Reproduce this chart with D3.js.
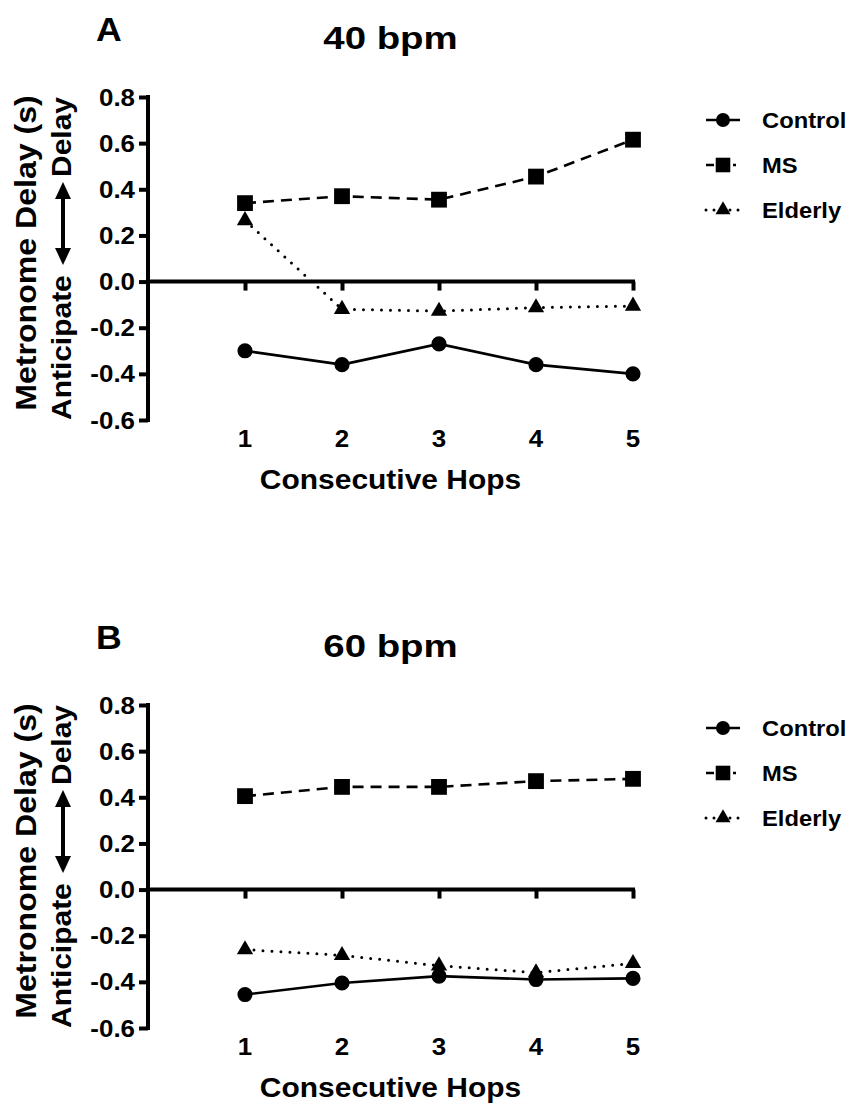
<!DOCTYPE html>
<html lang="en">
	<head>
		<meta charset="utf-8">
		<title>metronome delay</title>
		<script src="https://cdn.jsdelivr.net/npm/d3@7"></script>
		<style type="text/css">
			body { margin: 0; background: #fff; }
			text { font-family: "Liberation Sans", Arial, sans-serif; font-weight: bold; fill: #000; }
		</style>
	</head>

	<body>
        <script type="text/javascript">

            // chart width and height
			var w = 856;
			var h = 1103;

            // data
            var hops = [1, 2, 3, 4, 5];
            var yTicks = [0.8, 0.6, 0.4, 0.2, 0.0, -0.2, -0.4, -0.6];
            var groups = ["Control", "MS", "Elderly"];

            var control40 = [-0.30, -0.36, -0.27, -0.36, -0.40];
            var ms40      = [0.34, 0.37, 0.355, 0.455, 0.615];
            var elderly40 = [0.265, -0.12, -0.128, -0.113, -0.106];

            var control60 = [-0.455, -0.405, -0.375, -0.39, -0.385];
            var ms60      = [0.405, 0.445, 0.445, 0.47, 0.48];
            var elderly60 = [-0.26, -0.285, -0.33, -0.36, -0.32];

            var panels = [
                { letter: "A", title: "40 bpm", top: 97, series: [control40, ms40, elderly40] },
                { letter: "B", title: "60 bpm", top: 705, series: [control60, ms60, elderly60] }
            ];

            // line style + marker per group
            var styles = {
                Control: { dash: null, symbol: d3.symbolCircle, size: 180 },
                MS:      { dash: "11,7", symbol: d3.symbolSquare, size: 250 },
                Elderly: { dash: "0,9", symbol: d3.symbolTriangle, size: 115 }
            };

			var svg = d3.select("body")
						.append("svg")
						.attr("width", w)
						.attr("height", h);

            var xScale = d3.scaleLinear().domain([0, 5]).range([148, 633]);

            // text is a bit wider in the original, stretch horizontally
            function addText(g, x, y, str, size, sx, anchor, rot) {
                return g.append("text")
                    .attr("transform", "translate(" + x + "," + y + ")" + (rot ? " rotate(-90)" : "") + " scale(" + sx + ",1)")
                    .attr("text-anchor", anchor || "start")
                    .attr("font-size", size)
                    .text(str);
            }

            panels.forEach(function(p) {
                var yScale = d3.scaleLinear().domain([0.8, -0.6]).range([p.top, p.top + 323]);
                var g = svg.append("g");
                var y0 = yScale(0);

                // y axis
                var yAxis = d3.axisLeft(yScale)
                    .tickValues(yTicks)
                    .tickSize(9)
                    .tickFormat("");
                var ya = g.append("g")
                    .attr("transform", "translate(" + xScale(0) + ",0)")
                    .call(yAxis);
                ya.select(".domain").remove();
                ya.append("line")
                    .attr("y1", yScale(0.8) - 2).attr("y2", yScale(-0.6) + 2)
                    .attr("stroke", "#000").attr("stroke-width", 4);
                ya.selectAll(".tick line").attr("stroke-width", 4);

                yTicks.forEach(function(t) {
                    addText(g, 135, yScale(t) + 8.5, d3.format(".1f")(t).replace("−", "-"), 24, 1.08, "end");
                });

                // x axis sits on zero
                var xAxis = d3.axisBottom(xScale)
                    .tickValues(hops)
                    .tickSize(9)
                    .tickFormat("");
                var xa = g.append("g")
                    .attr("transform", "translate(0," + y0 + ")")
                    .call(xAxis);
                xa.select(".domain").remove();
                xa.append("line")
                    .attr("x1", xScale(0)).attr("x2", xScale(5) + 2)
                    .attr("stroke", "#000").attr("stroke-width", 4);
                xa.selectAll(".tick line").attr("stroke-width", 4);

                // labels below the plot, not under the zero line
                hops.forEach(function(d) {
                    addText(g, xScale(d), yScale(-0.6) + 27, d3.format("d")(d), 24, 1.08, "middle");
                });

                // titles
                addText(g, 96, p.top - 56, p.letter, 33, 1.08, "start");
                addText(g, xScale(2.5), p.top - 48, p.title, 32, 1.2, "middle");
                addText(g, xScale(2.5), yScale(-0.6) + 69, "Consecutive Hops", 28, 1.07, "middle");

                // y title (two lines, rotated)
                addText(g, 36, p.top + 156, "Metronome Delay (s)", 30, 1.07, "middle", true);
                addText(g, 71, p.top + 323, "Anticipate", 28, 1.07, "start", true);
                addText(g, 71, p.top, "Delay", 28, 1.07, "end", true);

                // double arrow between Anticipate and Delay
                var ax = 63, aTop = p.top + 85, aBot = p.top + 168;
                g.append("line")
                    .attr("x1", ax).attr("x2", ax)
                    .attr("y1", aTop + 10).attr("y2", aBot - 10)
                    .attr("stroke", "#000").attr("stroke-width", 4);
                g.append("path")
                    .attr("d", "M" + ax + "," + aTop + "L" + (ax - 8) + "," + (aTop + 17) + "L" + (ax + 8) + "," + (aTop + 17) + "Z")
                    .attr("fill", "#000");
                g.append("path")
                    .attr("d", "M" + ax + "," + aBot + "L" + (ax - 8) + "," + (aBot - 17) + "L" + (ax + 8) + "," + (aBot - 17) + "Z")
                    .attr("fill", "#000");

                // series lines + markers
                var line = d3.line()
                    .x(function(d, i) { return xScale(hops[i]); })
                    .y(function(d) { return yScale(d); });

                groups.forEach(function(name, k) {
                    var st = styles[name];
                    var vals = p.series[k];
                    g.append("path")
                        .datum(vals)
                        .attr("d", line)
                        .attr("fill", "none")
                        .attr("stroke", "#000")
                        .attr("stroke-width", name === "Elderly" ? 3 : 2.6)
                        .attr("stroke-linecap", name === "Elderly" ? "round" : "butt")
                        .attr("stroke-dasharray", st.dash);
                    g.selectAll(".m" + k)
                        .data(vals)
                        .enter()
                        .append("path")
                        .attr("transform", function(d, i) {
                            return "translate(" + xScale(hops[i]) + "," + yScale(d) + ")";
                        })
                        .attr("d", d3.symbol().type(st.symbol).size(st.size))
                        .attr("fill", "#000");

                    // legend
                    var ly = p.top + 23 + k * 45;
                    g.append("line")
                        .attr("x1", 706).attr("x2", 740)
                        .attr("y1", ly).attr("y2", ly)
                        .attr("stroke", "#000")
                        .attr("stroke-width", name === "Elderly" ? 3 : 2.6)
                        .attr("stroke-linecap", name === "Elderly" ? "round" : "butt")
                        .attr("stroke-dasharray", name === "MS" ? "8,19,3,10" : (name === "Elderly" ? "0,8" : null));
                    g.append("path")
                        .attr("transform", "translate(723," + ly + ")")
                        .attr("d", d3.symbol().type(st.symbol).size(st.size * 0.85))
                        .attr("fill", "#000");
                    addText(g, 762, ly + 8, name, 22, 1.08, "start");
                });
            });

        </script>
	</body>
</html>
